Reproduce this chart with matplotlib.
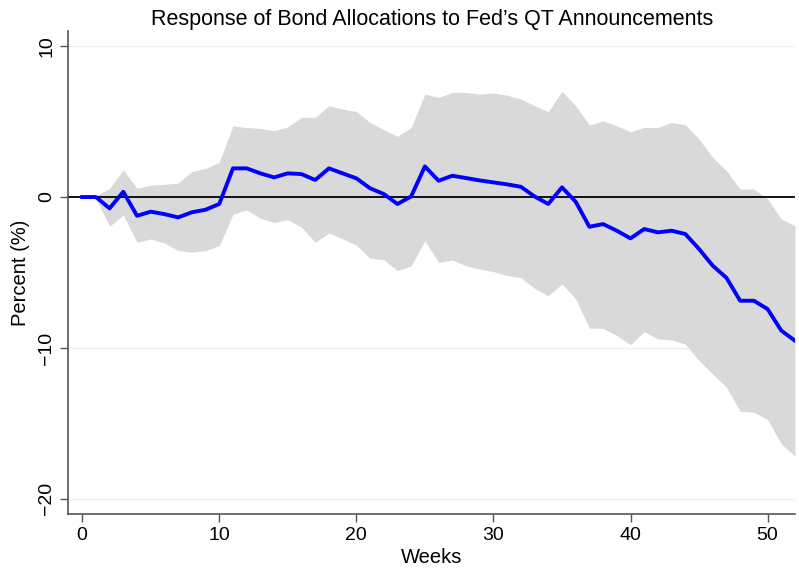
import numpy as np
import matplotlib.pyplot as plt

plt.rcParams['font.family'] = ['Liberation Sans', 'DejaVu Sans']

weeks = list(range(0, 53))
irf = [0.0, 0.0, -0.75, 0.35, -1.24, -0.97, -1.13, -1.35, -1.01, -0.84,
       -0.46, 1.9, 1.9, 1.57, 1.3, 1.57, 1.52, 1.13, 1.9, 1.57,
       1.24, 0.58, 0.2, -0.46, 0.04, 2.03, 1.08, 1.41, 1.26, 1.1,
       0.97, 0.84, 0.68, 0.04, -0.46, 0.64, -0.31, -1.97, -1.79, -2.23,
       -2.74, -2.12, -2.34, -2.23, -2.45, -3.44, -4.55, -5.35, -6.87, -6.87,
       -7.42, -8.85, -9.52]
upper = [0.0, 0.1, 0.57, 1.81, 0.57, 0.79, 0.84, 0.93, 1.68, 1.9,
         2.3, 4.72, 4.6, 4.55, 4.4, 4.65, 5.28, 5.28, 6.05, 5.83,
         5.67, 4.94, 4.46, 4.02, 4.61, 6.82, 6.6, 6.93, 6.93, 6.82,
         6.89, 6.75, 6.49, 6.05, 5.65, 7.0, 6.05, 4.77, 5.05, 4.72,
         4.32, 4.61, 4.61, 4.94, 4.79, 3.84, 2.63, 1.74, 0.53, 0.53,
         -0.13, -1.46, -1.9]
lower = [0.0, -0.1, -1.94, -1.19, -3.0, -2.78, -3.05, -3.55, -3.66, -3.55,
         -3.22, -1.13, -0.86, -1.41, -1.68, -1.5, -2.0, -3.0, -2.38, -2.78,
         -3.18, -4.06, -4.15, -4.88, -4.55, -2.89, -4.33, -4.17, -4.55, -4.77,
         -4.94, -5.2, -5.34, -6.05, -6.54, -5.76, -6.75, -8.68, -8.7, -9.18,
         -9.78, -8.92, -9.4, -9.47, -9.74, -10.84, -11.72, -12.6, -14.2, -14.26,
         -14.75, -16.36, -17.17]

fig = plt.figure(figsize=(7.99, 5.71), dpi=100)
ax = fig.add_axes([0.0857, 0.0998, 0.9093, 0.8459])

for y in [10, -10, -20]:
    ax.axhline(y, color='#eaf2f3', lw=1.0, zorder=0)
ax.fill_between(weeks, lower, upper, color='#d9d9d9', lw=0, zorder=1)
ax.axhline(0, color='black', lw=1.3, zorder=2)
ax.plot(weeks, irf, color='#0000ff', lw=2.8, zorder=3)

ax.set_xlim(-1, 52)
ax.set_ylim(-21, 11)
ax.set_xticks([0, 10, 20, 30, 40, 50])
ax.set_yticks([-20, -10, 0, 10])
ax.tick_params(axis='both', labelsize=14, color='#555555', length=6, width=1)
for lab in ax.get_yticklabels():
    lab.set_rotation(90)
    lab.set_va('center')

for s in ['top', 'right']:
    ax.spines[s].set_visible(False)
for s in ['left', 'bottom']:
    ax.spines[s].set_color('#555555')
    ax.spines[s].set_linewidth(1.2)

ax.set_title("Response of Bond Allocations to Fed\u2019s QT Announcements", fontsize=15.5, pad=4)
ax.set_xlabel('Weeks', fontsize=14.5, labelpad=3)
ax.set_ylabel('Percent (%)', fontsize=14.5, labelpad=6)

fig.savefig('out.png', dpi=100)
